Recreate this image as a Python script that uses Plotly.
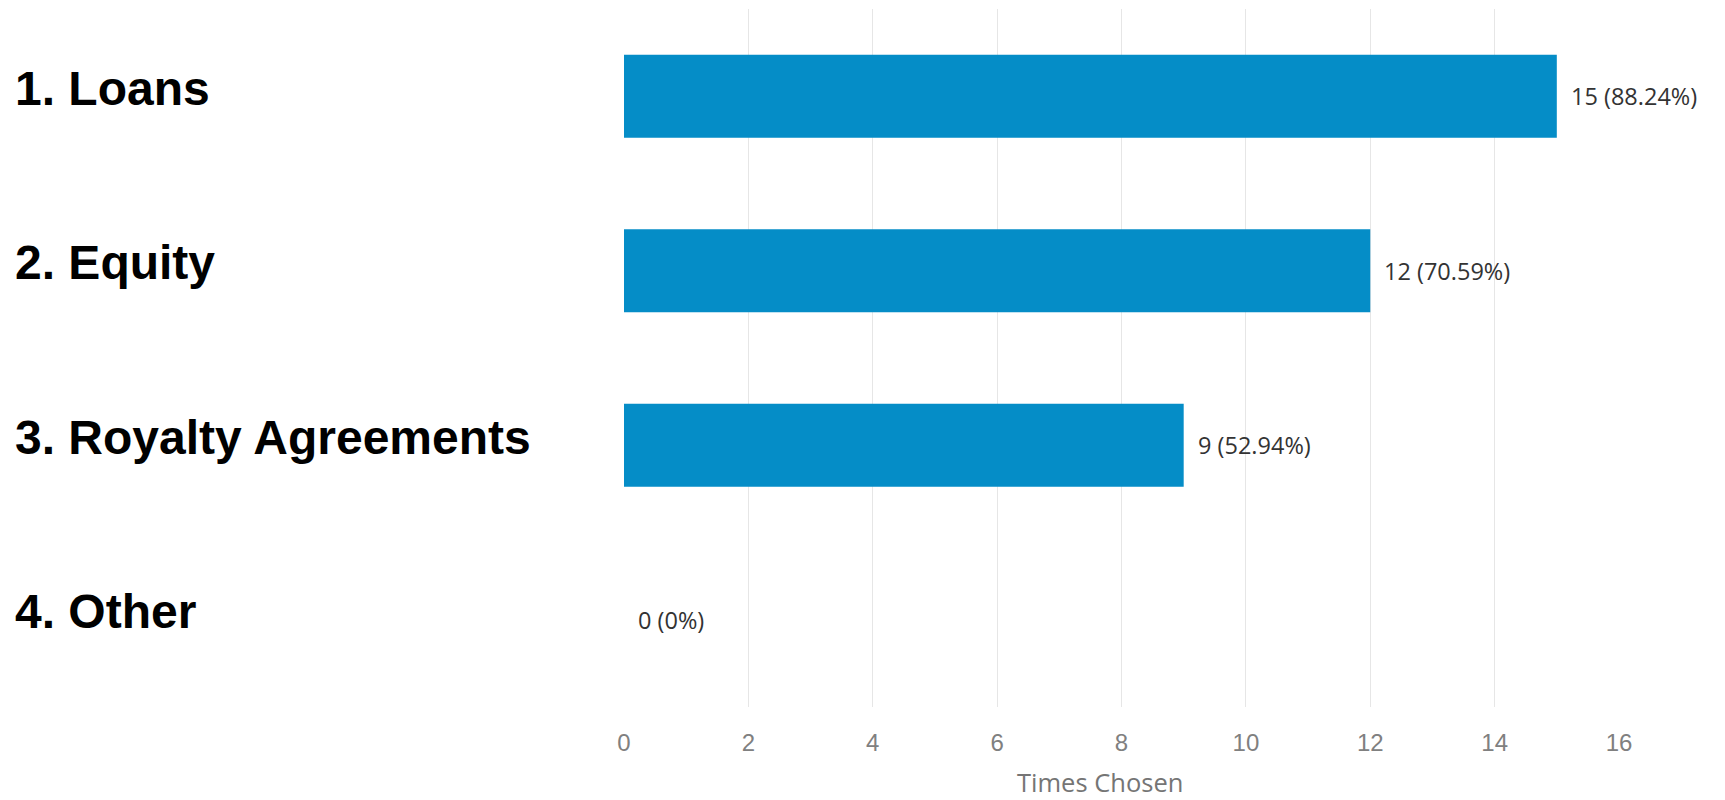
import plotly.graph_objects as go

categories = ["1. Loans", "2. Equity", "3. Royalty Agreements", "4. Other"]
counts = [15, 12, 9, 0]
percents = ["88.24%", "70.59%", "52.94%", "0%"]
x_ticks = [0, 2, 4, 6, 8, 10, 12, 14, 16]
x_title = "Times Chosen"

# page body has an 8px margin; compensate so window positions match
W, H = 1717, 792
L, R, T, B = 616, 106, 1, 93
plot_w = W - L - R
plot_h = H - T - B

fig = go.Figure()
fig.add_trace(go.Bar(
    x=counts, y=categories, orientation="h",
    marker=dict(color="#058dc7", line=dict(width=0)),
    hoverinfo="skip", showlegend=False,
))

annotations = []
for cat, c, p in zip(categories, counts, percents):
    annotations.append(dict(
        x=c, y=cat, xref="x", yref="y", text=f"{c} ({p})",
        xanchor="left", yanchor="middle", xshift=12, showarrow=False,
        font=dict(family="Open Sans", size=23.5, color="#333333"),
    ))
    annotations.append(dict(
        x=-(L - 5) / plot_w, y=cat, xref="paper", yref="y", text=f"<b>{cat}</b>",
        xanchor="left", yanchor="middle", yshift=8, showarrow=False,
        font=dict(family="Liberation Sans, Arial", size=48, color="#000000"),
    ))
annotations.append(dict(
    x=(1092 - L) / plot_w, y=-(774 - (H - B)) / plot_h, xref="paper", yref="paper",
    text=x_title, xanchor="center", yanchor="middle", showarrow=False,
    font=dict(family="Open Sans", size=25.5, color="#757575"),
))

fig.update_layout(
    width=W, height=H,
    margin=dict(l=L, r=R, t=T, b=B, pad=0),
    paper_bgcolor="white", plot_bgcolor="white",
    bargap=0.525,
    xaxis=dict(
        range=[0, 16], tickvals=x_ticks, showgrid=True, gridcolor="#e6e6e6", gridwidth=1,
        zeroline=False, showline=False, ticks="outside", ticklen=14, tickcolor="rgba(0,0,0,0)",
        tickfont=dict(family="Liberation Sans, Arial", size=24, color="#808080"),
    ),
    yaxis=dict(
        autorange="reversed", showticklabels=False, showgrid=False, zeroline=False,
        showline=False, ticks="",
    ),
    annotations=annotations,
)

fig.write_html("out.html")
